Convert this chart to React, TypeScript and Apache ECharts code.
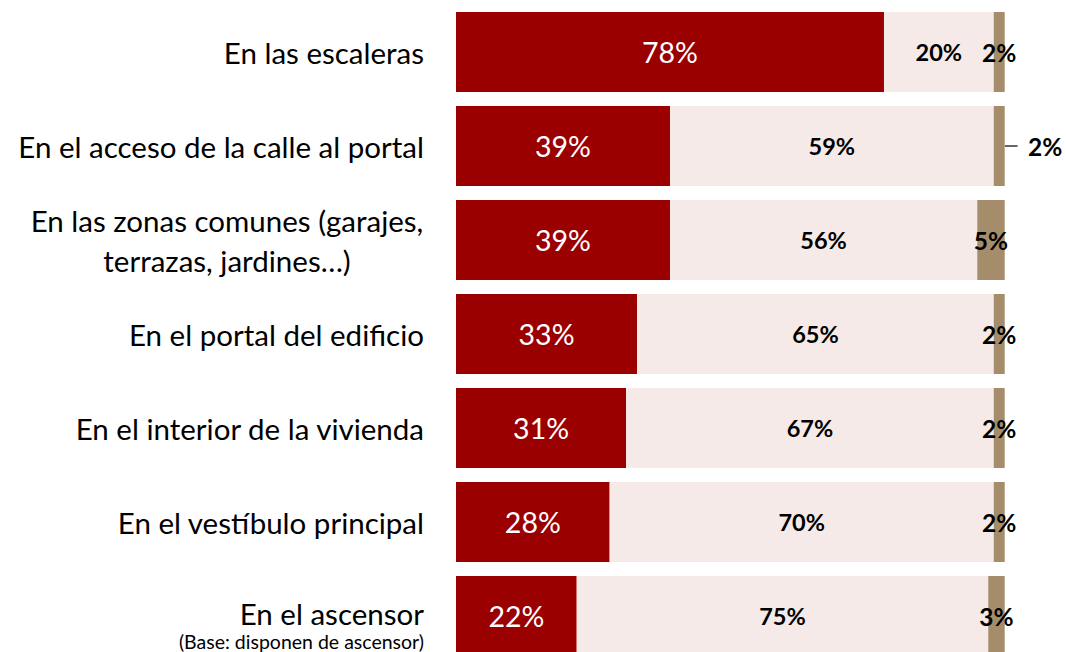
import React, { useEffect, useRef } from "react";
import * as echarts from "echarts";

const categories = [
  "En las escaleras",
  "En el acceso de la calle al portal",
  "En las zonas comunes (garajes,\nterrazas, jardines…)",
  "En el portal del edificio",
  "En el interior de la vivienda",
  "En el vestíbulo principal",
  "En el ascensor",
];
const baseNote = "(Base: disponen de ascensor)";
const seriesA = [78, 39, 39, 33, 31, 28, 22];
const seriesB = [20, 59, 56, 65, 67, 70, 75];
const seriesC = [2, 2, 5, 2, 2, 2, 3];

const FONT = "Lato";
const CAT_SIZE = 29.5;

export default function App() {
  const ref = useRef<HTMLDivElement>(null);
  useEffect(() => {
    if (!ref.current) return;
    const chart = echarts.init(ref.current, null, { renderer: "svg" });
    const option: any = {
      animation: false,
      backgroundColor: "#ffffff",
      grid: { left: 456, top: 5, width: 548.7, height: 658, containLabel: false },
      xAxis: { type: "value", min: 0, max: 100, show: false },
      yAxis: {
        type: "category",
        inverse: true,
        data: categories,
        axisLine: { show: false },
        axisTick: { show: false },
        axisLabel: {
          margin: 32,
          color: "#000000",
          fontFamily: FONT,
          fontSize: CAT_SIZE,
          formatter: (v: string, i: number) => {
            if (v.indexOf("\n") >= 0) {
              const parts = v.split("\n");
              return parts.map((p) => `{c|${p}}`).join("\n");
            }
            if (i === categories.length - 1) {
              return `{m|${v}}\n{b|${baseNote}}`;
            }
            return v;
          },
          rich: {
            c: { width: 394, align: "center", fontSize: CAT_SIZE, fontFamily: FONT, color: "#000", lineHeight: 40 },
            m: { fontSize: CAT_SIZE, fontFamily: FONT, color: "#000", lineHeight: 50, align: "right" },
            b: { fontSize: 19.5, fontFamily: FONT, color: "#000", lineHeight: 6, align: "right" },
          },
        },
      },
      series: [
        {
          type: "bar",
          stack: "t",
          barWidth: 80,
          data: seriesA,
          itemStyle: { color: "#9A0000" },
          label: {
            show: true,
            position: "inside",
            formatter: "{c}%",
            color: "#ffffff",
            fontFamily: FONT,
            fontSize: 28.5,
          },
        },
        {
          type: "bar",
          stack: "t",
          barWidth: 80,
          data: seriesB,
          itemStyle: { color: "#F5EAE8" },
          label: {
            show: true,
            position: "inside",
            formatter: "{c}%",
            color: "#000000",
            fontFamily: FONT,
            fontWeight: "bold",
            fontSize: 23.5,
          },
        },
        {
          type: "bar",
          stack: "t",
          barWidth: 80,
          data: seriesC.map((v, i) =>
            i === 1 ? { value: v, label: { offset: [46, 0] } } : v
          ),
          itemStyle: { color: "#A58D6B" },
          label: {
            show: true,
            position: "inside",
            formatter: "{c}%",
            color: "#000000",
            fontFamily: FONT,
            fontWeight: "bold",
            fontSize: 24.5,
          },
        },
      ],
    };
    chart.setOption(option);
    const end = chart.convertToPixel({ gridIndex: 0 }, [100, 1]) as number[];
    chart.setOption({
      graphic: [
        {
          type: "line",
          shape: { x1: end[0], y1: end[1], x2: end[0] + 13, y2: end[1] },
          style: { stroke: "#000", lineWidth: 1.2 },
        },
      ],
    });
    return () => chart.dispose();
  }, []);
  return (
    <div
      ref={ref}
      style={{ position: "fixed", left: 0, top: 0, width: 1066, height: 672, background: "#fff" }}
    />
  );
}
